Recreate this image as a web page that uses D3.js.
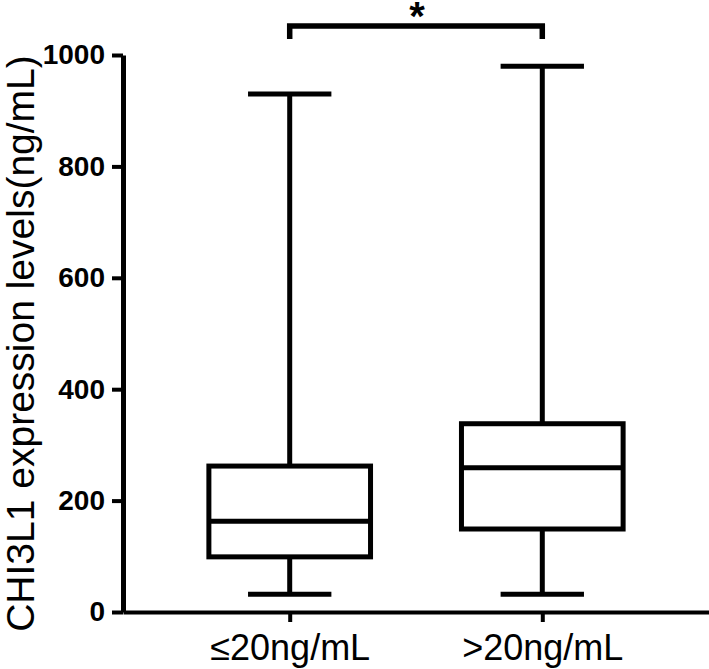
<!DOCTYPE html>
<html>
<head>
<meta charset="utf-8">
<script src="https://cdn.jsdelivr.net/npm/d3@7"></script>
<style>
  body { margin: 0; background: #fff; }
  text { font-family: "Liberation Sans", Arial, sans-serif; fill: #000; }
</style>
</head>
<body>
<svg id="chart" width="709" height="669"></svg>
<script>
// data
var groups = ["≤20ng/mL", ">20ng/mL"];
var whiskerLow = [32, 32];
var q1 = [99, 149];
var median = [163, 259];
var q3 = [262, 338];
var whiskerHigh = [930, 980];
var yTicks = [0, 200, 400, 600, 800, 1000];
var yTitle = "CHI3L1 expression levels(ng/mL)";
var sigLabel = "*";

var svg = d3.select("#chart");
var plotLeft = 123, plotRight = 709, plotTop = 55, plotBottom = 612;

var y = d3.scaleLinear().domain([0, 1000]).range([plotBottom, plotTop]);
var x = d3.scalePoint().domain(groups).range([plotLeft, plotRight]).padding(0.66);
var step = x.step();
var boxW = step * 0.64, capW = step * 0.33;

var boxes = groups.map(function(g, i) {
  return { g: g, lo: whiskerLow[i], q1: q1[i], med: median[i], q3: q3[i], hi: whiskerHigh[i] };
});

// y axis
var yAxis = svg.append("g")
  .attr("transform", "translate(" + plotLeft + ",0)")
  .call(d3.axisLeft(y).tickValues(yTicks).tickFormat(d3.format("d"))
    .tickSize(11).tickPadding(7).tickSizeOuter(0));
yAxis.select(".domain").attr("stroke-width", 5).attr("stroke", "#000");
yAxis.selectAll(".tick line").attr("stroke-width", 4).attr("stroke", "#000");
yAxis.selectAll(".tick text")
  .style("font-size", "28px").style("font-weight", "bold")
  .style("font-family", "'Liberation Sans', Arial, sans-serif").attr("fill", "#000");

// x axis
var xAxis = svg.append("g")
  .attr("transform", "translate(0," + plotBottom + ")")
  .call(d3.axisBottom(x).tickSize(10).tickPadding(12).tickSizeOuter(0));
xAxis.select(".domain").attr("stroke-width", 4).attr("stroke", "#000");
xAxis.selectAll(".tick line").attr("stroke-width", 4).attr("stroke", "#000");
xAxis.selectAll(".tick text")
  .style("font-size", "36px")
  .style("font-family", "'Liberation Sans', Arial, sans-serif").attr("fill", "#000");

// y title
svg.append("text")
  .attr("transform", "translate(34," + ((plotTop + plotBottom) / 2 + 10) + ") rotate(-90)")
  .attr("text-anchor", "middle")
  .style("font-size", "39px")
  .text(yTitle);

// boxes
var bg = svg.append("g").attr("stroke", "#000").attr("stroke-width", 5).attr("fill", "none");
boxes.forEach(function(d) {
  var cx = x(d.g);
  bg.append("line").attr("x1", cx).attr("x2", cx).attr("y1", y(d.hi)).attr("y2", y(d.q3));
  bg.append("line").attr("x1", cx).attr("x2", cx).attr("y1", y(d.q1)).attr("y2", y(d.lo));
  bg.append("line").attr("x1", cx - capW / 2).attr("x2", cx + capW / 2).attr("y1", y(d.hi)).attr("y2", y(d.hi));
  bg.append("line").attr("x1", cx - capW / 2).attr("x2", cx + capW / 2).attr("y1", y(d.lo)).attr("y2", y(d.lo));
  bg.append("rect").attr("x", cx - boxW / 2).attr("width", boxW)
    .attr("y", y(d.q3)).attr("height", y(d.q1) - y(d.q3)).attr("fill", "#fff");
  bg.append("line").attr("x1", cx - boxW / 2).attr("x2", cx + boxW / 2).attr("y1", y(d.med)).attr("y2", y(d.med));
});

// significance bracket
var bY = 26, bLeg = 13;
var x0 = x(groups[0]), x1 = x(groups[1]);
svg.append("path")
  .attr("d", "M" + x0 + "," + (bY + bLeg) + "V" + bY + "H" + x1 + "V" + (bY + bLeg))
  .attr("fill", "none").attr("stroke", "#000").attr("stroke-width", 5.5);
svg.append("text")
  .attr("x", (x0 + x1) / 2 + 1).attr("y", 30)
  .attr("text-anchor", "middle")
  .style("font-size", "40px").style("font-weight", "bold")
  .text(sigLabel);
</script>
</body>
</html>
